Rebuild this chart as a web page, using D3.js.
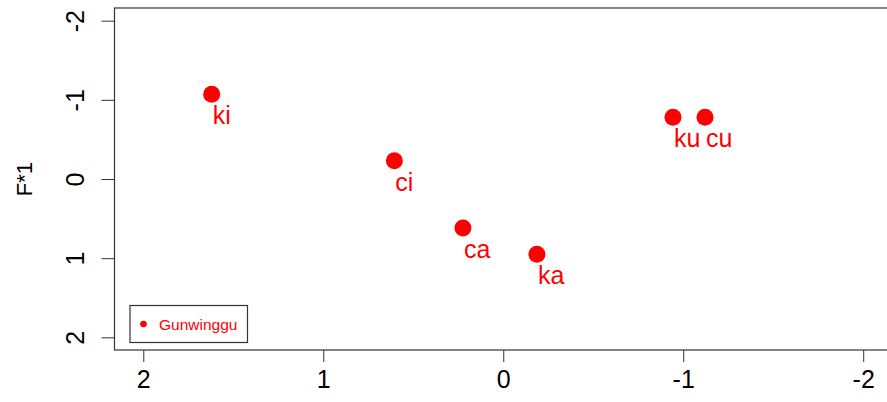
<!DOCTYPE html>
<html>
<head>
<meta charset="utf-8">
<script src="https://cdn.jsdelivr.net/npm/d3@7"></script>
<style>
  body { margin: 0; background: #fff; }
  svg { display: block; font-family: "Liberation Sans", Arial, sans-serif; }
</style>
</head>
<body>
<div id="chart"></div>
<script>
// syllable positions (x reversed, y reversed like the R plot)
const labels = ["ki", "ci", "ca", "ka", "ku", "cu"];
const xValues = [1.62, 0.605, 0.224, -0.187, -0.943, -1.121];
const yValues = [-1.07, -0.23, 0.62, 0.95, -0.78, -0.78];
const xTicks = [2, 1, 0, -1, -2];
const yTicks = [-2, -1, 0, 1, 2];
const legendLabels = ["Gunwinggu"];
const yLabel = "F*1";

const width = 887, height = 402;
const margin = { top: 8, right: -5, bottom: 52, left: 114.5 };
const red = "#ff0000";
const fmt = d => String(d); // plain hyphen minus, as in R

const svg = d3.select("#chart").append("svg")
  .attr("width", width)
  .attr("height", height);

// R pads the range by 4% each side
const xScale = d3.scaleLinear().domain([2.16, -2.16]).range([margin.left, width - margin.right]);
const yScale = d3.scaleLinear().domain([-2.16, 2.16]).range([margin.top, height - margin.bottom]);

// plot box
svg.append("rect")
  .attr("x", margin.left)
  .attr("y", margin.top)
  .attr("width", width - margin.right - margin.left)
  .attr("height", height - margin.bottom - margin.top)
  .attr("fill", "none")
  .attr("stroke", "#333")
  .attr("stroke-width", 1.2);

// x axis
const xAxis = svg.append("g")
  .attr("transform", `translate(0, ${height - margin.bottom})`)
  .call(d3.axisBottom(xScale).tickValues(xTicks).tickSize(12).tickPadding(8).tickFormat(fmt));
xAxis.select(".domain").remove();
xAxis.selectAll("line").attr("stroke", "#333");
xAxis.selectAll("text")
  .style("font-size", "25px")
  .attr("fill", "#000")
  .attr("font-family", "Liberation Sans, Arial, sans-serif");

// y axis, labels turned like R's default
const yAxis = svg.append("g")
  .attr("transform", `translate(${margin.left}, 0)`)
  .call(d3.axisLeft(yScale).tickValues(yTicks).tickSize(13).tickFormat(fmt));
yAxis.select(".domain").remove();
yAxis.selectAll("line").attr("stroke", "#333");
yAxis.selectAll("text")
  .attr("x", null).attr("dy", null)
  .attr("text-anchor", "middle")
  .attr("transform", `translate(-30.5, 0) rotate(-90)`)
  .style("font-size", "25px")
  .attr("fill", "#000")
  .attr("font-family", "Liberation Sans, Arial, sans-serif");

// y label
svg.append("text")
  .attr("transform", `translate(32, ${yScale(0)}) rotate(-90)`)
  .attr("text-anchor", "middle")
  .style("font-size", "22px")
  .attr("fill", "#000")
  .text(yLabel);

const pts = labels.map((l, i) => ({ label: l, x: xValues[i], y: yValues[i] }));

svg.selectAll(".pt")
  .data(pts)
  .enter().append("circle")
  .attr("class", "pt")
  .attr("cx", d => xScale(d.x))
  .attr("cy", d => yScale(d.y))
  .attr("r", 8.5)
  .attr("fill", red);

svg.selectAll(".lbl")
  .data(pts)
  .enter().append("text")
  .attr("class", "lbl")
  .attr("x", d => xScale(d.x) + 1)
  .attr("y", d => yScale(d.y) + 30)
  .style("font-size", "25px")
  .attr("fill", red)
  .text(d => d.label);

// legend
const legend = svg.append("g").attr("transform", "translate(130, 305.5)");
legend.append("rect")
  .attr("width", 117.5)
  .attr("height", 37)
  .attr("fill", "#fff")
  .attr("stroke", "#333")
  .attr("stroke-width", 1.2);
legend.selectAll("circle")
  .data(legendLabels)
  .enter().append("circle")
  .attr("cx", 13.5)
  .attr("cy", 18.5)
  .attr("r", 3.3)
  .attr("fill", red);
legend.selectAll("text")
  .data(legendLabels)
  .enter().append("text")
  .attr("x", 29)
  .attr("y", 24)
  .style("font-size", "15.5px")
  .attr("fill", red)
  .text(d => d);
</script>
</body>
</html>
